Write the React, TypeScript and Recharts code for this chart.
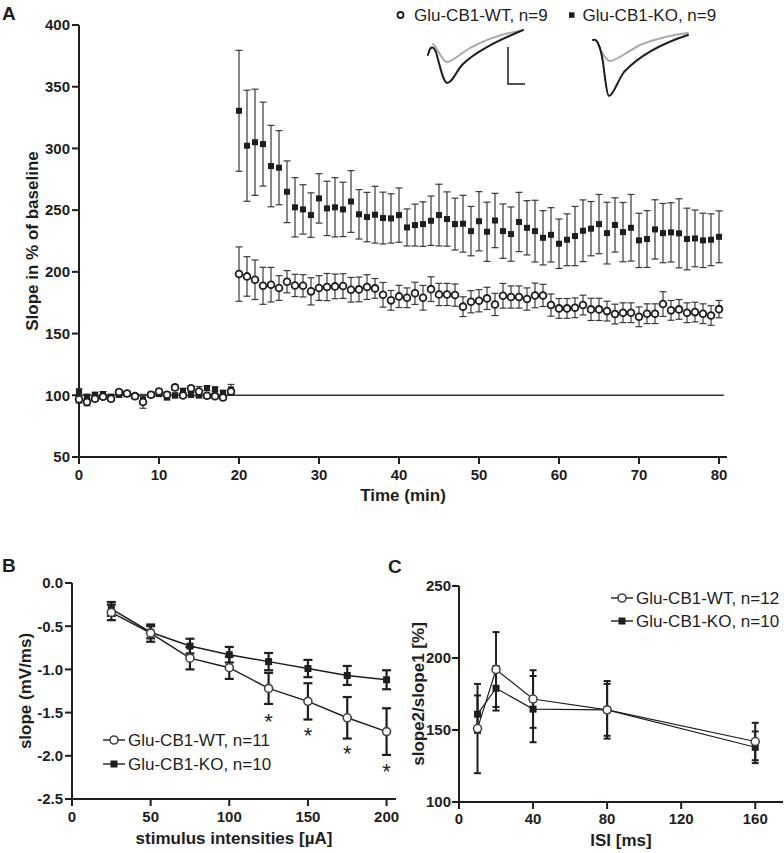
import React from 'react';
import { ComposedChart, Line, XAxis, YAxis, ErrorBar, ReferenceLine } from 'recharts';

const FONT = '"Liberation Sans", Arial, Helvetica, sans-serif';
const INK = '#1e1e1e';
const GREY_TRACE = '#aaaaaa';

// ---- Panel A: fEPSP slope over time (% of baseline)
const SERIES_A = ['Glu-CB1-WT, n=9', 'Glu-CB1-KO, n=9'];
const TIME_A = [
  0, 1, 2, 3, 4, 5, 6, 7, 8, 9, 10, 11, 12, 13, 14, 15, 16, 17, 18, 19,
  20, 21, 22, 23, 24, 25, 26, 27, 28, 29, 30, 31, 32, 33, 34, 35, 36, 37, 38, 39,
  40, 41, 42, 43, 44, 45, 46, 47, 48, 49, 50, 51, 52, 53, 54, 55, 56, 57, 58, 59,
  60, 61, 62, 63, 64, 65, 66, 67, 68, 69, 70, 71, 72, 73, 74, 75, 76, 77, 78, 79, 80,
];
const WT_A = [
  96.7, 94.5, 97.2, 98.8, 97.2, 102.6, 101.5, 99.3, 94.5, 100.4, 103.1, 100.4, 106.4, 99.9, 105.6, 103.1, 99.6, 99.3, 98.3, 103,
  198.2, 196.3, 193.6, 188.7, 189.6, 186.9, 192, 189, 188.7, 184.2, 186.9, 187.7, 188.2, 188.5, 185.5, 185.8, 187.7, 186.6, 181.4, 176.9,
  180.1, 179, 182.6, 179, 186, 181.7, 181.7, 181.2, 171.8, 175.8,
  176.6, 178.5, 173.6, 180.6, 179.6, 179.6, 178, 180.9, 180.9, 173.1, 170.4, 170.4, 170.9, 173.1, 169.6, 169.6, 168.2, 165.8, 166.9, 166.9,
  163.6, 166.1, 166.1, 173.9, 168.8, 169.6, 166.9, 167.4, 166.1, 164.7, 169.8,
];
const WT_A_ERR = [
  3, 3, 2, 2, 2, 2, 2, 2, 5, 2, 2, 2, 2, 2, 2, 4, 2, 2, 2, 2,
  22, 16, 16, 15, 14, 10, 9, 9, 9, 11, 10, 11, 10, 10, 10, 10, 10, 8, 10, 8,
  9, 8, 9, 10, 10, 9, 9, 9, 8, 9,
  9, 9, 9, 10, 9, 9, 9, 10, 9, 9, 8, 8, 8, 8, 9, 9, 8, 8, 8, 8,
  8, 8, 8, 10, 8, 8, 8, 8, 8, 8, 7,
];
const KO_A = [
  103.1, 98.8, 100.4, 101, 98.8, 100.4, 101, 99.3, 96.7, 100.4, 101, 98.3, 99.9, 103.6, 100.4, 99.9, 105.8, 104.8, 102, 104.8,
  330.5, 302.2, 305, 303.5, 285.7, 284.4, 264.9, 252.3, 250.6, 246, 259.5, 251.4, 252.3, 250.6, 257, 246.6, 244.4, 246.3, 243.6, 243.3,
  246, 236, 237.9, 238.7, 241.4, 246, 242.8, 238.7, 239, 233,
  241, 232.5, 241.6, 233, 230.6, 240.4, 235.7, 233, 227.6, 230, 222.8, 226, 229, 233.3, 235, 238.7, 231.4, 238, 232.2, 235.7,
  225.5, 226.6, 234.4, 231.4, 232, 231.2, 226.6, 227.1, 225.5, 226, 228.4,
];
const KO_A_ERR = [
  2, 2, 2, 2, 2, 2, 2, 2, 4, 2, 2, 2, 2, 2, 2, 2, 2, 2, 2, 4,
  49, 45, 43, 34, 33, 30, 25, 24, 20, 18, 20, 22, 24, 22, 25, 20, 20, 23, 21, 20,
  22, 15, 17, 18, 20, 25, 22, 21, 23, 20,
  24, 24, 22, 22, 22, 24, 22, 25, 22, 22, 20, 21, 24, 25, 22, 24, 25, 22, 24, 27,
  22, 23, 24, 24, 24, 28, 25, 23, 22, 21, 21,
];
const TICKS_A_X = [0, 10, 20, 30, 40, 50, 60, 70, 80];
const TICKS_A_Y = [50, 100, 150, 200, 250, 300, 350, 400];

// ---- Panel B: input-output curve
const SERIES_B = ['Glu-CB1-WT, n=11', 'Glu-CB1-KO, n=10'];
const STIM_B = [25, 50, 75, 100, 125, 150, 175, 200];
const WT_B = [-0.34, -0.58, -0.87, -0.98, -1.22, -1.37, -1.56, -1.72];
const WT_B_ERR = [0.09, 0.1, 0.13, 0.13, 0.18, 0.21, 0.24, 0.27];
const KO_B = [-0.3, -0.57, -0.73, -0.83, -0.91, -0.99, -1.07, -1.12];
const KO_B_ERR = [0.08, 0.07, 0.085, 0.09, 0.1, 0.1, 0.11, 0.11];
const SIG_B_X = [125, 150, 175, 200];
const SIG_B_Y = [-1.55, -1.71, -1.92, -2.12];
const TICKS_B_X = [0, 50, 100, 150, 200];
const TICKS_B_Y = [-2.5, -2.0, -1.5, -1.0, -0.5, 0.0];

// ---- Panel C: paired-pulse ratio
const SERIES_C = ['Glu-CB1-WT, n=12', 'Glu-CB1-KO, n=10'];
const ISI_C = [10, 20, 40, 80, 160];
const WT_C = [151, 192, 171.5, 164, 142];
const WT_C_ERR = [31, 26, 20, 18, 13];
const KO_C = [161, 179, 164.5, 164, 138];
const KO_C_ERR = [13, 15.5, 23, 20, 11];
const TICKS_C_X = [0, 40, 80, 120, 160];
const TICKS_C_Y = [100, 150, 200, 250];

const rowsA = TIME_A.map((t, i) => ({ t, wt: WT_A[i], wtErr: WT_A_ERR[i], ko: KO_A[i], koErr: KO_A_ERR[i] }));
const rowsB = STIM_B.map((x, i) => ({ x, wt: WT_B[i], wtErr: WT_B_ERR[i], ko: KO_B[i], koErr: KO_B_ERR[i] }));
const sigB = SIG_B_X.map((x, i) => ({ x, s: SIG_B_Y[i] }));
const rowsC = ISI_C.map((x, i) => ({ x, wt: WT_C[i], wtErr: WT_C_ERR[i], ko: KO_C[i], koErr: KO_C_ERR[i] }));

const axisCommon = {
  axisLine: { stroke: INK, strokeWidth: 2 },
  tickLine: { stroke: INK, strokeWidth: 2 },
  tickSize: 7,
  tick: { fill: INK, fontSize: 15, fontWeight: 700, fontFamily: FONT },
};

const labelStyle = { textAnchor: 'middle', fontSize: 17, fontWeight: 700, fill: INK, fontFamily: FONT } as any;

const circleDot = (r: number, sw: number, color: string) => (p: any) => {
  if (p.cx == null || p.cy == null) return <g key={`c${p.index}`} />;
  return <circle key={`c${p.index}`} cx={p.cx} cy={p.cy} r={r} fill="#fff" stroke={color} strokeWidth={sw} />;
};

const squareDot = (s: number) => (p: any) => {
  if (p.cx == null || p.cy == null) return <g key={`s${p.index}`} />;
  return <rect key={`s${p.index}`} x={p.cx - s / 2} y={p.cy - s / 2} width={s} height={s} fill={INK} />;
};

const starDot = (p: any) => {
  if (p.cx == null || p.cy == null) return <g key={`st${p.index}`} />;
  return (
    <text key={`st${p.index}`} x={p.cx} y={p.cy + 12.5} textAnchor="middle" fontSize={22} fontFamily={FONT} fill={INK}>
      *
    </text>
  );
};

function PanelA() {
  return (
    <div style={{ position: 'absolute', left: 0, top: 0 }}>
      <ComposedChart width={784} height={520} data={rowsA} margin={{ top: 25, right: 57, bottom: 0, left: 0 }}>
        <XAxis
          type="number"
          dataKey="t"
          domain={[0, 81]}
          ticks={TICKS_A_X}
          interval={0}
          height={63}
          tickMargin={5}
          {...axisCommon}
          label={{ value: 'Time (min)', position: 'insideBottom', offset: 19, style: labelStyle }}
        />
        <YAxis
          type="number"
          domain={[50, 400]}
          ticks={TICKS_A_Y}
          interval={0}
          width={79}
          tickMargin={2}
          {...axisCommon}
          label={{ value: 'Slope in % of baseline', angle: -90, position: 'insideLeft', offset: 32, style: labelStyle }}
        />
        <ReferenceLine segment={[{ x: 0, y: 100 }, { x: 80.6, y: 100 }]} stroke="#333" strokeWidth={1.5} />
        <Line dataKey="ko" name={SERIES_A[1]} stroke="none" isAnimationActive={false} dot={squareDot(6)} activeDot={false}>
          <ErrorBar dataKey="koErr" width={3.5} stroke="#3a3a3a" strokeWidth={1.2} direction="y" />
        </Line>
        <Line dataKey="wt" name={SERIES_A[0]} stroke="none" isAnimationActive={false} dot={circleDot(3.4, 1.8, INK)} activeDot={false}>
          <ErrorBar dataKey="wtErr" width={3.5} stroke="#3a3a3a" strokeWidth={1.2} direction="y" />
        </Line>
      </ComposedChart>
    </div>
  );
}

function PanelB() {
  return (
    <div style={{ position: 'absolute', left: 0, top: 560 }}>
      <ComposedChart width={400} height={293} data={rowsB} margin={{ top: 23, right: 4, bottom: 0, left: 0 }}>
        <XAxis
          type="number"
          dataKey="x"
          domain={[0, 206]}
          ticks={TICKS_B_X}
          interval={0}
          height={54}
          tickMargin={5}
          {...axisCommon}
          label={{ value: 'stimulus intensities [µA]', position: 'insideBottom', offset: 9, style: labelStyle }}
        />
        <YAxis
          type="number"
          domain={[-2.5, 0]}
          ticks={TICKS_B_Y}
          interval={0}
          width={72}
          tickMargin={2}
          tickFormatter={(v: number) => v.toFixed(1)}
          {...axisCommon}
          label={{ value: 'slope (mV/ms)', angle: -90, position: 'insideLeft', offset: 25, style: labelStyle }}
        />
        <Line dataKey="ko" name={SERIES_B[1]} stroke={INK} strokeWidth={1.5} isAnimationActive={false} dot={squareDot(7)} activeDot={false}>
          <ErrorBar dataKey="koErr" width={4.5} stroke={INK} strokeWidth={2.2} direction="y" />
        </Line>
        <Line dataKey="wt" name={SERIES_B[0]} stroke={INK} strokeWidth={1.5} isAnimationActive={false} dot={circleDot(4, 1.6, '#444')} activeDot={false}>
          <ErrorBar dataKey="wtErr" width={4.5} stroke={INK} strokeWidth={2.2} direction="y" />
        </Line>
        <Line data={sigB} dataKey="s" stroke="none" isAnimationActive={false} dot={starDot} activeDot={false} legendType="none" />
      </ComposedChart>
    </div>
  );
}

function PanelC() {
  return (
    <div style={{ position: 'absolute', left: 400, top: 560 }}>
      <ComposedChart width={384} height={293} data={rowsC} margin={{ top: 26, right: 1, bottom: 0, left: 0 }}>
        <XAxis
          type="number"
          dataKey="x"
          domain={[0, 175]}
          ticks={TICKS_C_X}
          interval={0}
          height={51}
          tickMargin={4}
          {...axisCommon}
          label={{ value: 'ISI [ms]', position: 'insideBottom', offset: 7, style: labelStyle }}
        />
        <YAxis
          type="number"
          domain={[100, 250]}
          ticks={TICKS_C_Y}
          interval={0}
          width={59}
          tickMargin={1}
          {...axisCommon}
          label={{ value: 'slope2/slope1 [%]', angle: -90, position: 'insideLeft', offset: 18, style: labelStyle }}
        />
        <Line dataKey="ko" name={SERIES_C[1]} stroke={INK} strokeWidth={1.2} isAnimationActive={false} dot={squareDot(7)} activeDot={false}>
          <ErrorBar dataKey="koErr" width={3.5} stroke={INK} strokeWidth={2} direction="y" />
        </Line>
        <Line dataKey="wt" name={SERIES_C[0]} stroke={INK} strokeWidth={1.2} isAnimationActive={false} dot={circleDot(4, 1.6, '#444')} activeDot={false}>
          <ErrorBar dataKey="wtErr" width={3.5} stroke={INK} strokeWidth={2} direction="y" />
        </Line>
      </ComposedChart>
    </div>
  );
}

// legend rows drawn with the same marker shapes as the series
function LineLegend({ x, y, names }: { x: number; y: number[]; names: string[] }) {
  return (
    <g>
      {names.map((n, i) => (
        <g key={n}>
          <line x1={x} y1={y[i]} x2={x + 22} y2={y[i]} stroke={INK} strokeWidth={1.4} />
          {i === 0 ? (
            <circle cx={x + 11} cy={y[i]} r={4} fill="#fff" stroke="#444" strokeWidth={1.6} />
          ) : (
            <rect x={x + 7.5} y={y[i] - 3.5} width={7} height={7} fill={INK} />
          )}
          <text x={x + 25} y={y[i] + 6.2} fontSize={17} fontFamily={FONT} fill={INK}>
            {n}
          </text>
        </g>
      ))}
    </g>
  );
}

function Overlay() {
  const letter = { fontSize: 19, fontWeight: 700, fontFamily: FONT, fill: INK } as any;
  return (
    <svg width={784} height={853} style={{ position: 'absolute', left: 0, top: 0, pointerEvents: 'none' }}>
      <text x={2} y={20} {...letter}>A</text>
      <text x={2} y={572} {...letter}>B</text>
      <text x={388} y={573} {...letter}>C</text>

      {/* panel A legend */}
      <circle cx={400.5} cy={15} r={3} fill="#fff" stroke={INK} strokeWidth={1.8} />
      <text x={414} y={20.5} fontSize={17} fontFamily={FONT} fill={INK}>{SERIES_A[0]}</text>
      <rect x={569} y={12.3} width={5.5} height={5.5} fill={INK} />
      <text x={582.5} y={20.5} fontSize={17} fontFamily={FONT} fill={INK}>{SERIES_A[1]}</text>

      {/* example traces (baseline grey, post-LTP black) */}
      <g fill="none" strokeWidth={2} strokeLinecap="round">
        <path d="M433,44 C438,48 442,62 447,62 C452,62 460,54 470,48 C485,40 505,33 520,31" stroke={GREY_TRACE} />
        <path d="M428,55 C430,46 433,45 436,52 C440,66 443,82 447,83 C452,83 456,72 462,65 C475,52 495,42 523,30" stroke={INK} />
        <path d="M596,40 C600,48 604,60 610,61 C616,61 625,53 640,45 C655,39 670,35 688,33" stroke={GREY_TRACE} />
        <path d="M593,40 C597,38 600,45 603,62 C605,78 607,96 609,96 C613,96 618,80 624,72 C640,55 660,44 688,35" stroke={INK} />
      </g>
      <path d="M508,47 L508,84 L525,84" fill="none" stroke={INK} strokeWidth={1.5} />

      <LineLegend x={103} y={[740, 764]} names={SERIES_B} />
      <LineLegend x={611} y={[598, 621]} names={SERIES_C} />
    </svg>
  );
}

export default function App() {
  return (
    <div style={{ position: 'absolute', left: 0, top: 0, width: 784, height: 853, background: '#fff', fontFamily: FONT }}>
      <PanelA />
      <PanelB />
      <PanelC />
      <Overlay />
    </div>
  );
}
